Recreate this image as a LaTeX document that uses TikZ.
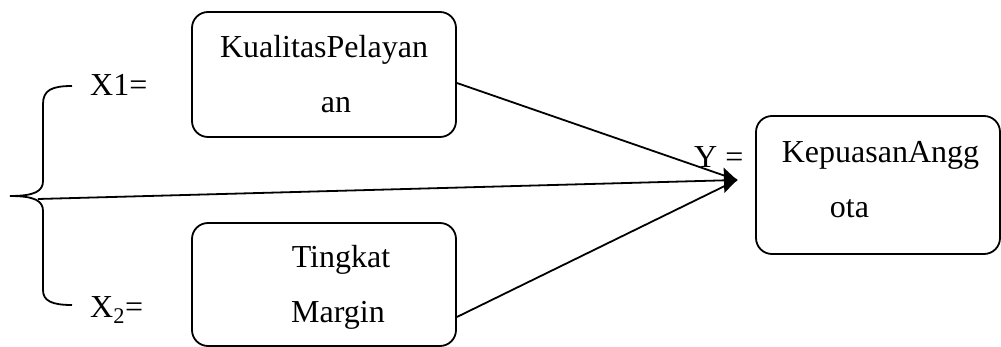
\documentclass[tikz,border=0pt]{standalone}
\usepackage{fontspec}
\setmainfont{Liberation Serif}
\usetikzlibrary{arrows.meta}
\begin{document}
\begin{tikzpicture}[x=1pt,y=-1pt,
  box/.style={draw,line width=1.8pt,rounded corners=16pt,inner sep=0pt},
  txt/.style={anchor=base,inner sep=0pt,font=\fontsize{32}{38}\selectfont},
  conn/.style={line width=1.8pt}]
\useasboundingbox (0,0) rectangle (1001,347);
\node[box,minimum width=264pt,minimum height=125pt] (b1) at (324,74.5) {};
\node[box,minimum width=264pt,minimum height=123pt] (b2) at (324,284.5) {};
\node[box,minimum width=244pt,minimum height=138pt] (by) at (878,185) {};
\node[txt] (t1a) at (324,58) {KualitasPelayan};
\node[txt] (t1b) at (336,113) {an};
\node[txt] (t2a) at (341,268) {Tingkat};
\node[txt] (t2b) at (338,323) {Margin};
\node[txt] (tya) at (880.5,163) {KepuasanAngg};
\node[txt] (tyb) at (849.5,218) {ota};
\node[txt,anchor=base west] (x1) at (90,96) {X1=};
\node[txt,anchor=base west] (x2) at (90,317) {X\textsubscript{2}=};
\node[txt,anchor=base west] (ylab) at (694,168) {Y =};
\coordinate (tip) at (737,180);
\coordinate (brace) at (38,199);
\draw[conn] (72,86) .. controls (52,86) and (43,90) .. (43,104) -- (43,181)
  .. controls (43,191) and (35,196) .. (10,196)
  .. controls (35,196) and (43,201) .. (43,211) -- (43,290)
  .. controls (43,301) and (52,305) .. (72,305);
\draw[conn] ([yshift=-8.5pt]b1.east) -- (tip);
\draw[conn] ([yshift=-32.5pt]b2.east) -- (tip);
\draw[conn,-{Triangle[length=13pt,width=25pt]}] (brace) -- (tip);
\end{tikzpicture}
\end{document}
